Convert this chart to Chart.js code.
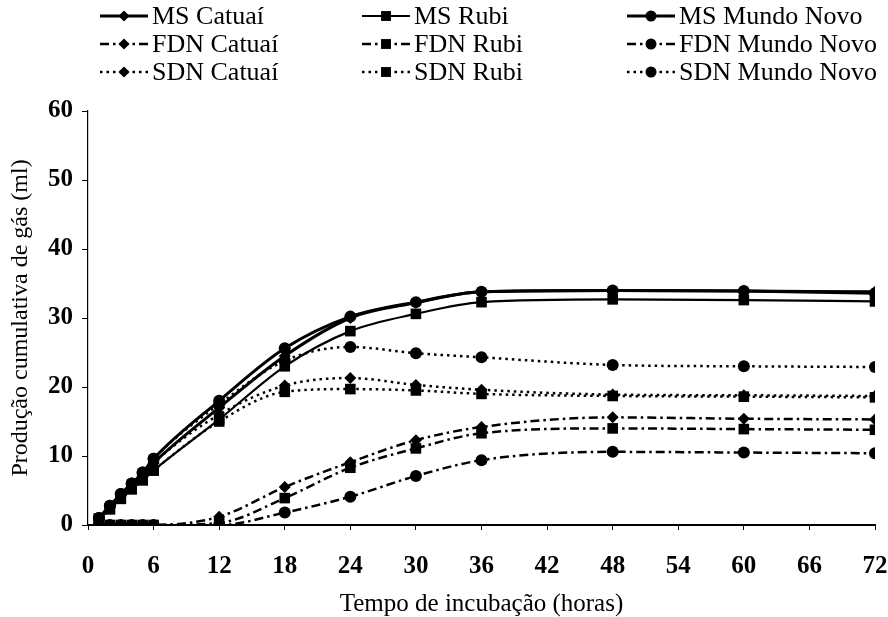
<!DOCTYPE html>
<html>
<head>
<meta charset="utf-8">
<script src="https://cdn.jsdelivr.net/npm/chart.js@4.4.0/dist/chart.umd.min.js"></script>
<style>
  html, body { margin: 0; padding: 0; background: #fff; }
</style>
</head>
<body>
<canvas id="gasChart" width="888" height="617"></canvas>
<script>
// ********
// * Data *
// ********
const hours = [1, 2, 3, 4, 5, 6, 12, 18, 24, 30, 36, 48, 60, 72];

const msCatuai = [1.0, 2.7, 4.3, 5.8, 7.3, 9.0, 17.0, 24.5, 30.0, 32.2, 33.8, 34.0, 33.9, 33.8];
const msRubi = [0.9, 2.3, 3.8, 5.2, 6.5, 7.9, 15.3, 23.0, 28.1, 30.6, 32.3, 32.7, 32.6, 32.4];
const msMundoNovo = [1.0, 2.8, 4.5, 6.0, 7.6, 9.6, 18.0, 25.6, 30.2, 32.3, 33.8, 34.0, 33.9, 33.6];

const fdnCatuai = [0, 0, 0, 0, 0, 0, 1.2, 5.5, 9.1, 12.3, 14.2, 15.6, 15.4, 15.3];
const fdnRubi = [0, 0, 0, 0, 0, 0, 0.3, 3.9, 8.3, 11.1, 13.3, 14.0, 13.9, 13.8];
const fdnMundoNovo = [0, 0, 0, 0, 0, 0, 0, 1.8, 4.1, 7.1, 9.4, 10.6, 10.5, 10.4];

const sdnCatuai = [1.0, 2.7, 4.3, 5.8, 7.3, 9.0, 16.0, 20.2, 21.3, 20.3, 19.6, 18.9, 18.8, 18.7];
const sdnRubi = [0.9, 2.3, 3.8, 5.2, 6.5, 7.9, 15.0, 19.3, 19.7, 19.5, 19.0, 18.7, 18.6, 18.5];
const sdnMundoNovo = [1.0, 2.8, 4.5, 6.0, 7.6, 9.6, 17.5, 23.8, 25.8, 24.9, 24.3, 23.2, 23.0, 22.9];

const xTicks = [0, 6, 12, 18, 24, 30, 36, 42, 48, 54, 60, 66, 72];
const yTicks = [0, 10, 20, 30, 40, 50, 60];

const xTitle = 'Tempo de incubação (horas)';
const yTitle = 'Produção cumulativa de gás (ml)';

// **********
// * Styles *
// **********
const FONT = "'Liberation Serif', 'Times New Roman', serif";
const solid = [];
const dashDot = [9, 4, 2.5, 4];
const dotted = [2.5, 4];

function series(label, values, dash, marker, width) {
    return {
        label: label,
        data: hours.map((h, i) => ({ x: h, y: values[i] })),
        borderColor: '#000',
        backgroundColor: '#000',
        borderWidth: width,
        borderDash: dash,
        borderCapStyle: 'butt',
        cubicInterpolationMode: 'monotone',
        pointStyle: marker,
        pointRadius: marker === 'rect' ? 7.5 : 6,
        pointBorderWidth: 0,
        pointBackgroundColor: '#000'
    };
}

const datasets = [
    series('MS Catuaí', msCatuai, solid, 'rectRot', 3),
    series('MS Rubi', msRubi, solid, 'rect', 2.2),
    series('MS Mundo Novo', msMundoNovo, solid, 'circle', 3),
    series('FDN Catuaí', fdnCatuai, dashDot, 'rectRot', 2.5),
    series('FDN Rubi', fdnRubi, dashDot, 'rect', 2.5),
    series('FDN Mundo Novo', fdnMundoNovo, dashDot, 'circle', 2.5),
    series('SDN Catuaí', sdnCatuai, dotted, 'rectRot', 2.5),
    series('SDN Rubi', sdnRubi, dotted, 'rect', 2.5),
    series('SDN Mundo Novo', sdnMundoNovo, dotted, 'circle', 2.5)
];

// ****************
// * Grid legend  *
// ****************
const legendCols = [100, 362, 627];
const legendRows = [16, 44, 72];

function drawMarker(ctx, style, x, y, r) {
    ctx.beginPath();
    if (style === 'circle') {
        ctx.arc(x, y, r, 0, Math.PI * 2);
    } else if (style === 'rect') {
        const s = r * Math.SQRT1_2;
        ctx.rect(x - s, y - s, 2 * s, 2 * s);
    } else {
        ctx.moveTo(x, y - r);
        ctx.lineTo(x + r, y);
        ctx.lineTo(x, y + r);
        ctx.lineTo(x - r, y);
        ctx.closePath();
    }
    ctx.fill();
}

const gridLegend = {
    id: 'gridLegend',
    afterDraw(chart) {
        const ctx = chart.ctx;
        chart.data.datasets.forEach((ds, i) => {
            const x = legendCols[i % 3];
            const y = legendRows[Math.floor(i / 3)];
            ctx.save();
            ctx.strokeStyle = '#000';
            ctx.fillStyle = '#000';
            ctx.lineWidth = ds.borderWidth;
            ctx.setLineDash(ds.borderDash);
            ctx.beginPath();
            ctx.moveTo(x, y);
            ctx.lineTo(x + 48, y);
            ctx.stroke();
            ctx.setLineDash([]);
            drawMarker(ctx, ds.pointStyle, x + 24, y, ds.pointStyle === 'rect' ? 7 : 5.5);
            ctx.font = '26px ' + FONT;
            ctx.textBaseline = 'middle';
            ctx.textAlign = 'left';
            ctx.fillText(ds.label, x + 52, y + 1);
            ctx.restore();
        });
    }
};

// *********
// * Chart *
// *********
const ctxChart = document.getElementById('gasChart').getContext('2d');

new Chart(ctxChart, {
    type: 'line',
    data: { datasets: datasets },
    plugins: [gridLegend],
    options: {
        responsive: false,
        animation: false,
        layout: { padding: { top: 111, right: 13, left: 0, bottom: 0 } },
        plugins: {
            legend: { display: false },
            tooltip: { enabled: false }
        },
        scales: {
            x: {
                type: 'linear',
                min: 0,
                max: 72,
                afterBuildTicks: (scale) => { scale.ticks = xTicks.map(v => ({ value: v })); },
                afterFit: (scale) => {
                    scale.height = 92;
                    scale.paddingLeft = 0;
                    scale.paddingRight = 0;
                },
                ticks: {
                    color: '#000',
                    font: { family: FONT, size: 25, weight: 'bold' },
                    padding: 22,
                    maxRotation: 0,
                    autoSkip: false
                },
                grid: {
                    display: true,
                    drawOnChartArea: false,
                    drawTicks: true,
                    tickLength: 5,
                    color: '#000',
                    lineWidth: 1
                },
                border: { display: true, color: '#000', width: 2 },
                title: {
                    display: true,
                    text: xTitle,
                    color: '#000',
                    font: { family: FONT, size: 25 },
                    padding: { top: 0, bottom: -2 }
                }
            },
            y: {
                min: 0,
                max: 60,
                afterBuildTicks: (scale) => { scale.ticks = yTicks.map(v => ({ value: v })); },
                afterFit: (scale) => { scale.width = 88; },
                ticks: {
                    color: '#000',
                    font: { family: FONT, size: 25, weight: 'bold' },
                    padding: 9
                },
                grid: {
                    display: true,
                    drawOnChartArea: false,
                    drawTicks: true,
                    tickLength: 6,
                    color: '#000',
                    lineWidth: 1
                },
                border: { display: true, color: '#000', width: 1.2, dash: [5, 2, 1, 2] },
                title: {
                    display: true,
                    text: yTitle,
                    color: '#000',
                    font: { family: FONT, size: 24 },
                    padding: { top: 6, bottom: 0 }
                }
            }
        }
    }
});
</script>
</body>
</html>
